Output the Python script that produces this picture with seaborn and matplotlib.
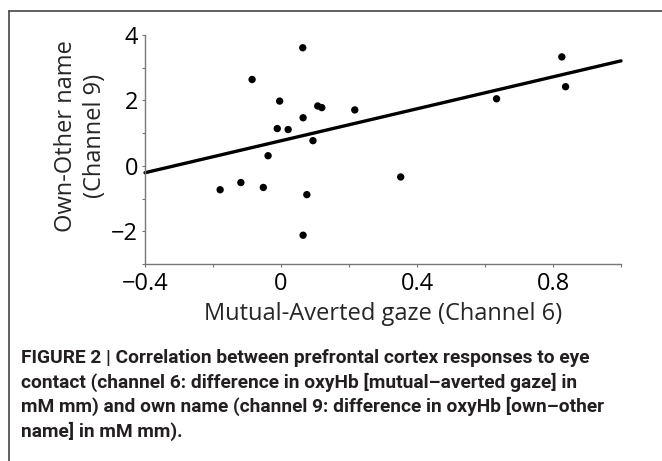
# Eye contact vs own name - prefrontal cortex correlation (Figure 2)

import pandas as pd
import matplotlib.pyplot as plt
import seaborn as sns
from matplotlib.lines import Line2D
from matplotlib.ticker import FixedLocator

# values
gaze_diff = [0.064, -0.085, -0.004, 0.108, 0.120, 0.217, 0.065, -0.011, 0.021, 0.094,
             -0.038, 0.352, -0.118, -0.179, -0.052, 0.076, 0.065, 0.826, 0.837, 0.634]
name_diff = [3.61, 2.64, 1.98, 1.83, 1.78, 1.71, 1.47, 1.14, 1.11, 0.77,
             0.31, -0.34, -0.51, -0.73, -0.66, -0.88, -2.12, 3.33, 2.42, 2.05]

# regression line as drawn in the figure
fit_x = [-0.4, 1.0]
fit_y = [-0.21, 3.21]

x_ticks = [-0.4, 0, 0.4, 0.8]
x_tick_labels = ['\u22120.4', '0', '0.4', '0.8']
x_minor = [-0.2, 0.2, 0.6, 1.0]
y_ticks = [-2, 0, 2, 4]
y_tick_labels = ['\u22122', '0', '2', '4']
y_minor = [-3, -1, 1, 3]

caption_lines = [
    "FIGURE 2 | Correlation between prefrontal cortex responses to eye",
    "contact (channel 6: difference in oxyHb [mutual\u2013averted gaze] in",
    "mM mm) and own name (channel 9: difference in oxyHb [own\u2013other",
    "name] in mM mm).",
]

df = pd.DataFrame({'gaze': gaze_diff, 'name': name_diff})
fit = pd.DataFrame({'x': fit_x, 'y': fit_y})

sns.set_style('ticks')
plt.rcParams['font.family'] = ['Open Sans', 'DejaVu Sans']

fig = plt.figure(figsize=(6.62, 4.61), dpi=100)
ax = fig.add_axes([145 / 662, 1 - 264 / 461, 476 / 662, 229 / 461])

sns.scatterplot(data=df, x='gaze', y='name', ax=ax, color='black', s=28,
                edgecolor='none', zorder=3)
sns.lineplot(data=fit, x='x', y='y', ax=ax, color='black', linewidth=2.4,
             clip_on=False)

ax.set_xlim(-0.4, 1.0)
ax.set_ylim(-3, 4)
ax.set_xticks(x_ticks)
ax.set_xticklabels(x_tick_labels)
ax.set_yticks(y_ticks)
ax.set_yticklabels(y_tick_labels)
ax.xaxis.set_minor_locator(FixedLocator(x_minor))
ax.yaxis.set_minor_locator(FixedLocator(y_minor))

for side in ['top', 'right']:
    ax.spines[side].set_visible(False)
for side in ['left', 'bottom']:
    ax.spines[side].set_color('#777777')
    ax.spines[side].set_linewidth(1.0)

ax.tick_params(which='both', direction='out', length=2.5, width=0.8,
               color='#777777', labelsize=17, labelcolor='black')
ax.tick_params(axis='y', pad=2.5)
ax.tick_params(axis='x', pad=3.5)

ax.set_xlabel('Mutual-Averted gaze (Channel 6)', fontsize=17, labelpad=4)
ax.set_ylabel('Own-Other name\n(Channel 9)', fontsize=17, linespacing=1.3)
ax.yaxis.set_label_coords(-0.08, 0.56)

# frame lines around the figure panel
fig.add_artist(Line2D([9 / 662, 1], [1 - 11 / 461, 1 - 11 / 461], color='#444444', lw=1.2))
fig.add_artist(Line2D([9 / 662, 9 / 662], [0, 1 - 11 / 461], color='#444444', lw=1.2))

# caption
for i, line in enumerate(caption_lines):
    fig.text(21 / 662, 1 - (358 + 24.3 * i) / 461, line, ha='left', va='center',
             fontsize=13.8, fontweight='bold', color='#231f20',
             family=['Roboto', 'DejaVu Sans'])

fig.savefig('out.png', dpi=100)
